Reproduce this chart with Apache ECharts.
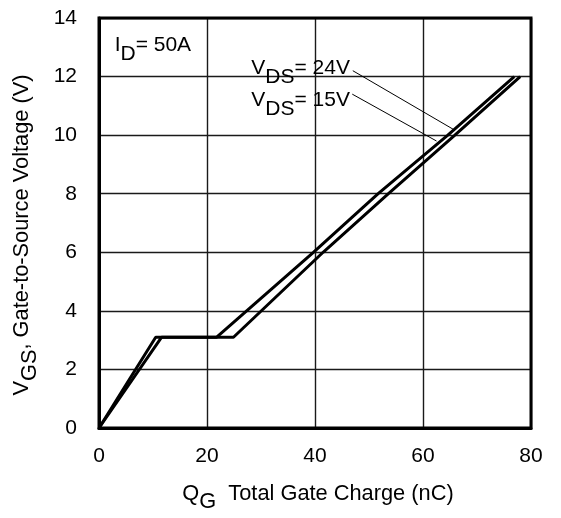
<!DOCTYPE html>
<html>
<head>
<meta charset="utf-8">
<script src="https://cdn.jsdelivr.net/npm/echarts@6/dist/echarts.min.js"></script>
<style>
html,body{margin:0;padding:0;background:#fff;}
#chart{width:561px;height:518px;}
</style>
</head>
<body>
<div id="chart"></div>
<script>
// Data
const qg15 = [0, 10.5, 21.8, 39.7, 51.7, 64.6, 76.9];
const vgs15 = [0, 3.1, 3.1, 6.0, 8.0, 10.0, 12.0];
const qg24 = [0, 11.6, 24.9, 41.5, 53.6, 65.9, 78.0];
const vgs24 = [0, 3.1, 3.1, 6.0, 8.0, 10.0, 12.0];
const xTicks = [0, 20, 40, 60, 80];
const yTicks = [0, 2, 4, 6, 8, 10, 12, 14];
const leader24 = [[47.0, 12.2], [65.6, 10.2]];
const leader15 = [[46.9, 11.4], [62.5, 9.8]];
const label24At = [28.2, 12.66];
const label15At = [28.2, 11.54];
const labelIdAt = [2.9, 13.42];

const FONT = '"Liberation Sans", Arial, sans-serif';
const FS = 21;
const FN = 21.8;
function richOf(size) {
  return {
    n: { fontSize: size, fontFamily: FONT, color: '#000', lineHeight: 30, verticalAlign: 'top' },
    s: { fontSize: size, fontFamily: FONT, color: '#000', lineHeight: 30, verticalAlign: 'bottom' }
  };
}
const rich = richOf(FS);
const richName = richOf(FN);

const chart = echarts.init(document.getElementById('chart'), null, { renderer: 'canvas' });

function pairs(xs, ys) { return xs.map((x, i) => [x, ys[i]]); }

const option = {
  animation: false,
  backgroundColor: '#fff',
  grid: {
    left: 99, right: 30, top: 18, bottom: 83,
    show: true, borderColor: '#000', borderWidth: 3, backgroundColor: 'transparent', z: 3
  },
  xAxis: {
    type: 'value', min: xTicks[0], max: xTicks[xTicks.length - 1], interval: 20,
    axisLine: { show: true, lineStyle: { color: '#000', width: 3 } },
    axisTick: { show: false },
    axisLabel: { color: '#000', fontSize: FS, fontFamily: FONT, margin: 18 },
    splitLine: { show: true, lineStyle: { color: '#1a1a1a', width: 1.4 } },
    name: '{n|Q}{s|G}{n|  Total Gate Charge (nC)}',
    nameLocation: 'middle', nameGap: 55,
    nameTextStyle: { rich: richName, padding: [0, 0, 0, 6] }
  },
  yAxis: {
    type: 'value', min: yTicks[0], max: yTicks[yTicks.length - 1], interval: 2,
    axisLine: { show: true, lineStyle: { color: '#000', width: 3 } },
    axisTick: { show: false },
    axisLabel: { color: '#000', fontSize: FS, fontFamily: FONT, margin: 22 },
    splitLine: { show: true, lineStyle: { color: '#1a1a1a', width: 1.4 } },
    name: '{n|V}{s|GS}{n|, Gate-to-Source Voltage (V)}',
    nameLocation: 'middle', nameGap: 58, nameRotate: 90,
    nameTextStyle: { rich: richName, padding: [0, 24, 0, 0] }
  },
  series: [
    {
      name: 'VDS=15V', type: 'line', data: pairs(qg15, vgs15),
      showSymbol: false, symbol: 'none', z: 5,
      lineStyle: { color: '#000', width: 3 },
      markLine: {
        silent: true, symbol: ['none', 'none'],
        lineStyle: { color: '#000', width: 1, type: 'solid' },
        label: { show: false },
        data: [[{ coord: leader15[0] }, { coord: leader15[1] }]]
      }
    },
    {
      name: 'VDS=24V', type: 'line', data: pairs(qg24, vgs24),
      showSymbol: false, symbol: 'none', z: 5,
      lineStyle: { color: '#000', width: 3 },
      markLine: {
        silent: true, symbol: ['none', 'none'],
        lineStyle: { color: '#000', width: 1, type: 'solid' },
        label: { show: false },
        data: [[{ coord: leader24[0] }, { coord: leader24[1] }]]
      }
    }
  ]
};
chart.setOption(option);

function textAt(pt, str) {
  const p = chart.convertToPixel({ gridIndex: 0 }, pt);
  return {
    type: 'text', x: p[0], y: p[1], z: 10,
    style: { text: str, rich: rich, align: 'left', verticalAlign: 'top', fill: '#000', font: FS + 'px ' + FONT }
  };
}
chart.setOption({
  graphic: [
    textAt(labelIdAt, '{n|I}{s|D}{n|= 50A}'),
    textAt(label24At, '{n|V}{s|DS}{n|= 24V}'),
    textAt(label15At, '{n|V}{s|DS}{n|= 15V}')
  ]
});
</script>
</body>
</html>
